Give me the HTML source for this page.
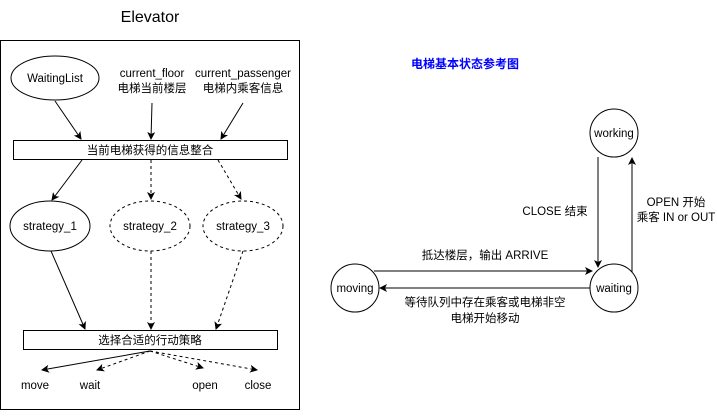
<!DOCTYPE html>
<html><head><meta charset="utf-8"><style>
body{margin:0;background:#fff;}
text{font-family:"Liberation Sans","Noto Sans CJK SC",sans-serif;font-size:11.5px;fill:#000;}
</style></head><body>
<svg width="717" height="412" viewBox="0 0 717 412" xmlns="http://www.w3.org/2000/svg">
<defs>
<marker id="a" markerWidth="8" markerHeight="8" refX="7" refY="4" orient="auto" markerUnits="userSpaceOnUse">
<path d="M0,0 L8,4 L0,8 L2,4 Z" fill="#000"/></marker>
</defs>
<g stroke="#000" fill="none" stroke-width="1">
<text x="150" y="22" text-anchor="middle" style="font-size:16px" stroke="none">Elevator</text>
<rect x="0.5" y="40.5" width="299" height="369" fill="#fff"/>
<ellipse cx="55" cy="78" rx="44" ry="22"/>
<rect x="13.5" y="140.5" width="274" height="19"/>
<rect x="23.5" y="330.5" width="254" height="19"/>
<ellipse cx="50" cy="226" rx="40" ry="25"/>
<ellipse cx="150" cy="226" rx="40" ry="25" stroke-dasharray="3,3"/>
<ellipse cx="243" cy="226" rx="40" ry="25" stroke-dasharray="3,3"/>
<line x1="55" y1="101" x2="81" y2="139" marker-end="url(#a)"/>
<line x1="152" y1="103" x2="151" y2="139" marker-end="url(#a)"/>
<line x1="243" y1="103" x2="221" y2="139" marker-end="url(#a)"/>
<line x1="82" y1="160" x2="52" y2="200" marker-end="url(#a)"/>
<line x1="151" y1="160" x2="151" y2="199" stroke-dasharray="3,3" marker-end="url(#a)"/>
<line x1="218" y1="160" x2="241" y2="199" stroke-dasharray="3,3" marker-end="url(#a)"/>
<line x1="51" y1="251" x2="85" y2="329" marker-end="url(#a)"/>
<line x1="151" y1="251" x2="151" y2="329" stroke-dasharray="3,3" marker-end="url(#a)"/>
<line x1="243" y1="251" x2="216" y2="329" stroke-dasharray="3,3" marker-end="url(#a)"/>
<line x1="150" y1="351" x2="42" y2="370" marker-end="url(#a)"/>
<line x1="150" y1="351" x2="97" y2="370" stroke-dasharray="3,3" marker-end="url(#a)"/>
<line x1="150" y1="351" x2="203" y2="368" stroke-dasharray="3,3" marker-end="url(#a)"/>
<line x1="150" y1="351" x2="257" y2="370" stroke-dasharray="3,3" marker-end="url(#a)"/>
<circle cx="614" cy="133" r="24"/>
<circle cx="614" cy="288" r="24"/>
<circle cx="355" cy="288" r="24"/>
<line x1="598" y1="157" x2="598" y2="267" marker-end="url(#a)"/>
<line x1="632" y1="272" x2="632" y2="158" marker-end="url(#a)"/>
<line x1="374" y1="271" x2="592" y2="271" marker-end="url(#a)"/>
<line x1="590" y1="288" x2="380" y2="288" marker-end="url(#a)"/>
</g>
<text x="55" y="82" text-anchor="middle">WaitingList</text>
<text x="152" y="77" text-anchor="middle">current_floor</text>
<text x="152" y="92" text-anchor="middle">电梯当前楼层</text>
<text x="243" y="77" text-anchor="middle">current_passenger</text>
<text x="243" y="92" text-anchor="middle">电梯内乘客信息</text>
<text x="150" y="154" text-anchor="middle">当前电梯获得的信息整合</text>
<text x="50" y="230" text-anchor="middle">strategy_1</text>
<text x="150" y="230" text-anchor="middle">strategy_2</text>
<text x="243" y="230" text-anchor="middle">strategy_3</text>
<text x="150" y="344" text-anchor="middle">选择合适的行动策略</text>
<text x="35" y="389" text-anchor="middle">move</text>
<text x="90" y="389" text-anchor="middle">wait</text>
<text x="205" y="389" text-anchor="middle">open</text>
<text x="258" y="389" text-anchor="middle">close</text>
<text x="465" y="68" text-anchor="middle" style="fill:#0000ff;font-weight:bold;font-size:12px">电梯基本状态参考图</text>
<text x="614" y="137" text-anchor="middle">working</text>
<text x="614" y="292" text-anchor="middle">waiting</text>
<text x="355" y="292" text-anchor="middle">moving</text>
<text x="555" y="215" text-anchor="middle">CLOSE 结束</text>
<text x="676" y="206" text-anchor="middle">OPEN 开始</text>
<text x="676" y="221" text-anchor="middle">乘客 IN or OUT</text>
<text x="485" y="259" text-anchor="middle">抵达楼层，输出 ARRIVE</text>
<text x="485" y="306" text-anchor="middle">等待队列中存在乘客或电梯非空</text>
<text x="485" y="322" text-anchor="middle">电梯开始移动</text>
</svg>
</body></html>
